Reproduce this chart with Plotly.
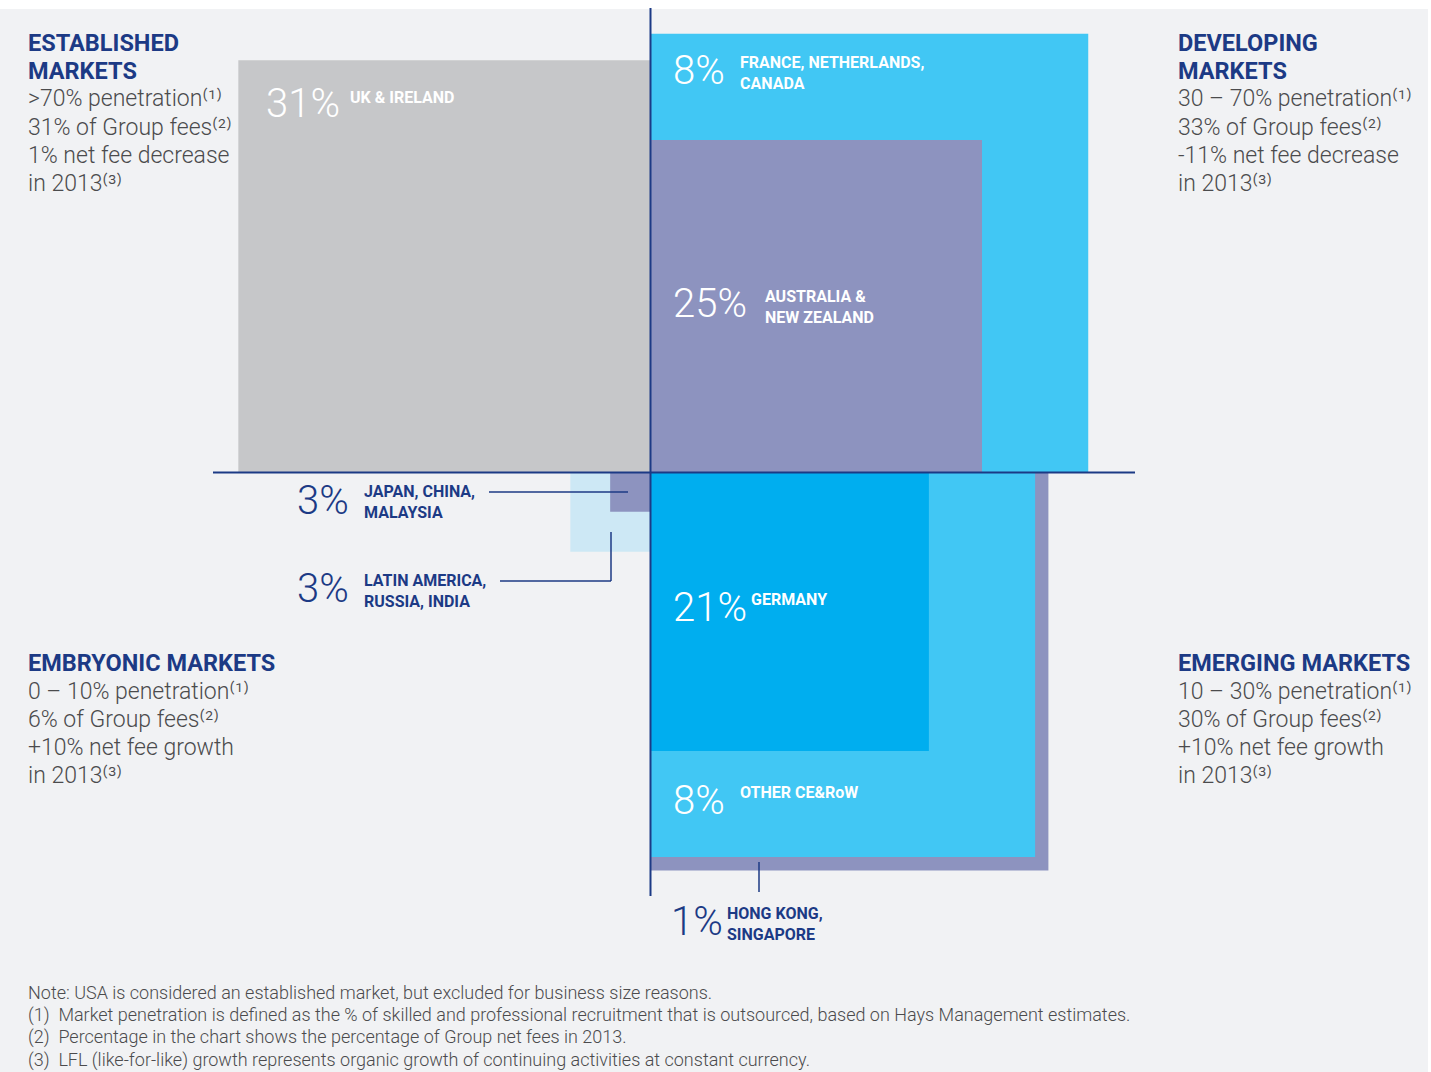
import plotly.graph_objects as go

# ---------------- data ----------------
quadrant_titles = [["ESTABLISHED", "MARKETS"], ["DEVELOPING", "MARKETS"], ["EMERGING MARKETS"], ["EMBRYONIC MARKETS"]]
quadrant_penetration = [">70% penetration", "30 – 70% penetration", "10 – 30% penetration", "0 – 10% penetration"]
quadrant_fees = [31, 33, 30, 6]
quadrant_growth = ["1% net fee decrease", "-11% net fee decrease", "+10% net fee growth", "+10% net fee growth"]

# regions per quadrant, listed from innermost square to outermost square
established_regions = ["UK & IRELAND"]
established_shares = [31]
developing_regions = ["AUSTRALIA &<br>NEW ZEALAND", "FRANCE, NETHERLANDS,<br>CANADA"]
developing_shares = [25, 8]
emerging_regions = ["GERMANY", "OTHER CE&RoW", "HONG KONG,<br>SINGAPORE"]
emerging_shares = [21, 8, 1]
embryonic_regions = ["JAPAN, CHINA,<br>MALAYSIA", "LATIN AMERICA,<br>RUSSIA, INDIA"]
embryonic_shares = [3, 3]

notes = [
    "Note: USA is considered an established market, but excluded for business size reasons.",
    "(1)  Market penetration is defined as the % of skilled and professional recruitment that is outsourced, based on Hays Management estimates.",
    "(2)  Percentage in the chart shows the percentage of Group net fees in 2013.",
    "(3)  LFL (like-for-like) growth represents organic growth of continuing activities at constant currency.",
]

# ---------------- styling / layout ----------------
W, H = 1431, 1072
S = 13.28          # pixels per percentage point
CX, CY = 650, 472  # pixel position of the quadrant origin
NAVY = "#1c3a85"
GREY_TXT = "#4b4b4d"
BG = "#f1f2f4"
FONT = "Roboto"

GREY = "#c6c7c9"
LIGHTBLUE = "#41c7f4"
PURPLE = "#8d93bf"
BLUE = "#00aeef"
PALE = "#cde8f5"

quads = [
    (established_regions, established_shares, [GREY], (-1, 1)),
    (developing_regions, developing_shares, [PURPLE, LIGHTBLUE], (1, 1)),
    (emerging_regions, emerging_shares, [BLUE, LIGHTBLUE, PURPLE], (1, -1)),
    (embryonic_regions, embryonic_shares, [PURPLE, PALE], (-1, -1)),
]


def px2x(px):
    return (px - CX) / S


def py2y(py):
    return (CY - py) / S


shapes = []
# background
shapes.append(dict(type="rect", xref="paper", yref="paper", x0=0, x1=1428 / W, y0=0, y1=1 - 9 / H,
                   fillcolor=BG, line=dict(width=0), layer="below"))

for regions, shares, colors, (sx, sy) in quads:
    cum = []
    t = 0
    for v in shares:
        t += v
        cum.append(t)
    # draw outermost first
    for side, col in reversed(list(zip(cum, colors))):
        shapes.append(dict(type="rect", xref="x", yref="y", x0=0, x1=sx * side, y0=0, y1=sy * side,
                           fillcolor=col, line=dict(width=0), layer="below"))


def line(p0, p1, w=2):
    shapes.append(dict(type="line", xref="x", yref="y", x0=px2x(p0[0]), y0=py2y(p0[1]),
                       x1=px2x(p1[0]), y1=py2y(p1[1]), line=dict(color=NAVY, width=w)))


# axes
line((650.5, 8), (650.5, 896))
line((213, 472.5), (1135, 472.5))
# leader lines
line((489, 492), (628, 492), 1.5)
line((500, 581), (611, 581), 1.5)
line((611, 581), (611, 532), 1.5)
line((759, 862), (759, 892), 1.5)

annotations = []


def ann(px, py, text, size, color, weight=400, xanchor="left", yanchor="middle", family=FONT):
    annotations.append(dict(xref="paper", yref="paper", x=(px - 2) / W, y=1 - py / H, text=text,
                            showarrow=False, xanchor=xanchor, yanchor=yanchor, align="left",
                            font=dict(size=size, color=color, family=family, weight=weight)))


SUP = {1: "⁽¹⁾", 2: "⁽²⁾", 3: "⁽³⁾"}

# quadrant descriptions
title_pos = [(28, 43), (1178, 43), (1178, 663), (28, 663)]
for i, (x, y) in enumerate(title_pos):
    for k, t in enumerate(quadrant_titles[i]):
        ann(x, y + 28 * k, t, 23.5, NAVY, 700)
    y0 = y + 28 * len(quadrant_titles[i])
    body = [f"{quadrant_penetration[i]}{SUP[1]}",
            f"{quadrant_fees[i]}% of Group fees{SUP[2]}",
            quadrant_growth[i],
            f"in 2013{SUP[3]}"]
    for k, t in enumerate(body):
        ann(x, y0 + 28 * k, t, 23, GREY_TXT, 300)

# region labels: (big number position, label position, colour)
label_pos = {
    "UK & IRELAND": ((266, 104), (350, 97), "white"),
    "FRANCE, NETHERLANDS,<br>CANADA": ((673, 70), (740, 73), "white"),
    "AUSTRALIA &<br>NEW ZEALAND": ((673, 303), (765, 307), "white"),
    "GERMANY": ((673, 607), (751, 599), "white"),
    "OTHER CE&RoW": ((673, 800), (740, 792), "white"),
    "HONG KONG,<br>SINGAPORE": ((671, 921), (727, 924), NAVY),
    "JAPAN, CHINA,<br>MALAYSIA": ((297, 500), (364, 502), NAVY),
    "LATIN AMERICA,<br>RUSSIA, INDIA": ((297, 588), (364, 591), NAVY),
}
for regions, shares, colors, _ in quads:
    for r, v in zip(regions, shares):
        (nx, ny), (lx, ly), col = label_pos[r]
        ann(nx, ny, f"{v}%", 40, col, 300)
        ann(lx, ly, r, 16, col, 700)

# notes
for i, n in enumerate(notes):
    ann(28, 992 + 22.7 * i, n, 18, GREY_TXT, 300)

fig = go.Figure()
fig.update_layout(
    width=W, height=H, autosize=False,
    margin=dict(l=0, r=0, t=0, b=0),
    paper_bgcolor="white", plot_bgcolor="rgba(0,0,0,0)",
    xaxis=dict(range=[px2x(0), px2x(W)], visible=False, fixedrange=True),
    yaxis=dict(range=[py2y(H), py2y(0)], visible=False, fixedrange=True),
    shapes=shapes, annotations=annotations, showlegend=False,
)
fig.write_html("out.html")
